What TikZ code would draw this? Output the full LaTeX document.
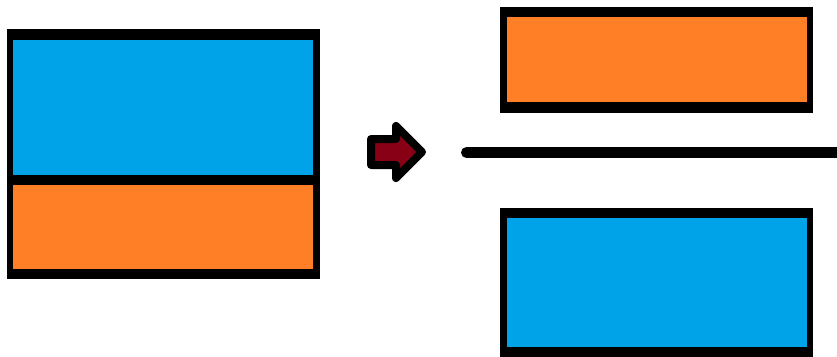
\documentclass[tikz,border=0pt]{standalone}
\definecolor{pblue}{RGB}{0,162,232}
\definecolor{porange}{RGB}{255,127,39}
\definecolor{pdred}{RGB}{136,0,21}
\begin{document}
\begin{tikzpicture}[x=1pt,y=-1pt,
  frame/.style={fill=black},
  arrowshape/.style={fill=pdred,draw=black,line width=8pt,line join=round}]
\useasboundingbox (0,0) rectangle (837,356);
\clip (0,0) rectangle (837,356);
\fill[white] (0,0) rectangle (837,356);
% left box
\fill[frame] (7,29) rectangle (320,279);
\fill[pblue] (13,40) rectangle (313,175);
\fill[porange] (13,185) rectangle (313,269);
% arrow
\draw[arrowshape] (371,139) -- (396,139) -- (396,126) -- (422,152) -- (396,178) -- (396,165) -- (371,165) -- cycle;
% line
\draw[line width=11pt,line cap=round] (466.5,152.5) -- (850,152.5);
% right top orange
\fill[frame] (500,7) rectangle (813,113);
\fill[porange] (507,17) rectangle (807,102);
% right bottom blue
\fill[frame] (500,208) rectangle (813,358);
\fill[pblue] (507,218) rectangle (807,347);
\end{tikzpicture}
\end{document}
